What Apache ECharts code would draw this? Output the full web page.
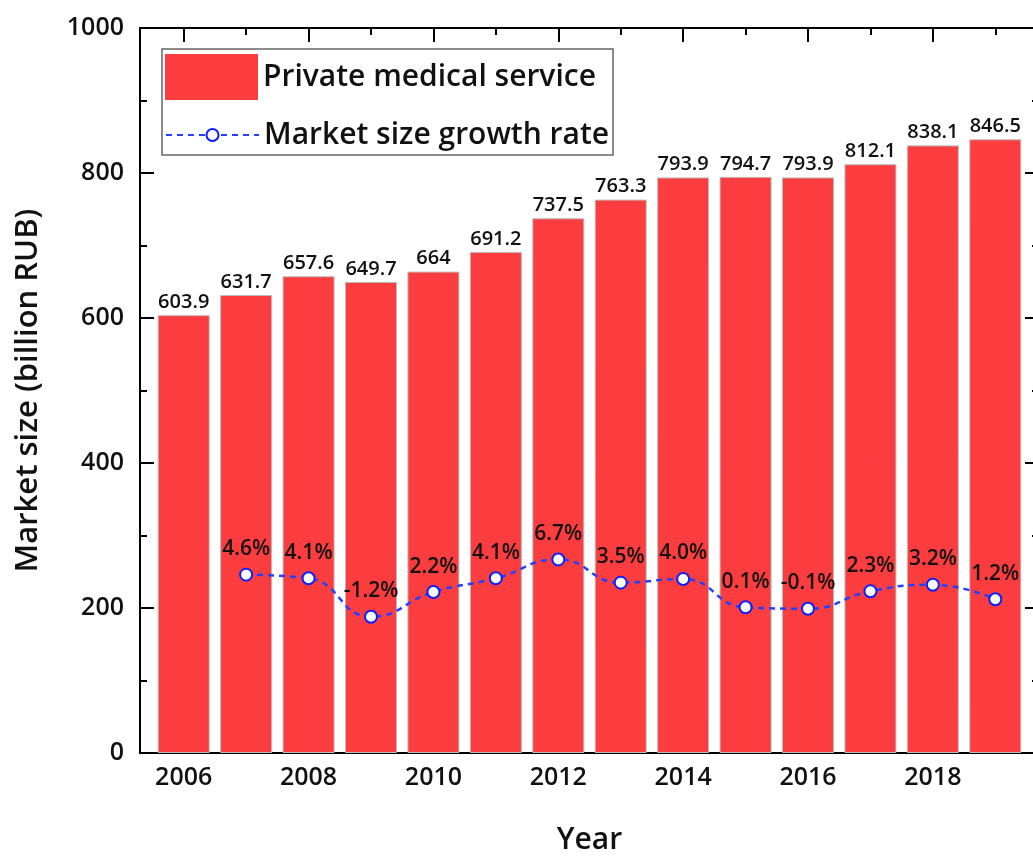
<!DOCTYPE html>
<html>
<head>
<meta charset="utf-8">
<script src="https://cdn.jsdelivr.net/npm/echarts@6/dist/echarts.min.js"></script>
<style>
  html, body { margin: 0; padding: 0; background: #fff; }
  #chart { width: 1033px; height: 859px; }
</style>
</head>
<body>
<div id="chart"></div>
<script>
// data
const years = [2006, 2007, 2008, 2009, 2010, 2011, 2012, 2013, 2014, 2015, 2016, 2017, 2018, 2019];
const marketSize = [603.9, 631.7, 657.6, 649.7, 664, 691.2, 737.5, 763.3, 793.9, 794.7, 793.9, 812.1, 838.1, 846.5];
const growthYears = [2007, 2008, 2009, 2010, 2011, 2012, 2013, 2014, 2015, 2016, 2017, 2018, 2019];
const growthRate = [4.6, 4.1, -1.2, 2.2, 4.1, 6.7, 3.5, 4.0, 0.1, -0.1, 2.3, 3.2, 1.2];
const majorYears = [2006, 2008, 2010, 2012, 2014, 2016, 2018];
const minorYears = [2007, 2009, 2011, 2013, 2015, 2017, 2019];

const FONT = 'Open Sans';
const W = 600;
const xMin = 2005.3, xMax = 2019.7;

const chart = echarts.init(document.getElementById('chart'));

// frame axes: bottom/top, major/minor ticks
const xAxisBase = (pos, ticks, len, showLine, showLabel) => ({
  type: 'value',
  position: pos,
  min: xMin,
  max: xMax,
  splitLine: { show: false },
  axisLine: { show: showLine, onZero: false, lineStyle: { color: '#000', width: 2 } },
  axisTick: { show: true, inside: true, length: len, customValues: ticks, lineStyle: { color: '#000', width: 2 } },
  axisLabel: {
    show: showLabel, customValues: ticks, margin: 12,
    fontFamily: FONT, fontSize: 25, fontWeight: W, color: '#111',
    formatter: v => String(v),
  },
});

const option = {
  animation: false,
  grid: { left: 140, top: 28, width: 899, height: 725, outerBoundsMode: 'none', containLabel: false },
  legend: [
    {
      data: [{ name: 'Private medical service', icon: 'rect' }],
      left: 165, top: 54, padding: 0,
      itemWidth: 93, itemHeight: 46,
      itemStyle: { borderWidth: 0 },
      textStyle: { fontFamily: FONT, fontSize: 30, fontWeight: W, color: '#111' },
    },
    {
      data: ['Market size growth rate'],
      left: 165, top: 120, padding: 0,
      itemWidth: 93, itemHeight: 15,
      textStyle: { fontFamily: FONT, fontSize: 30, fontWeight: W, color: '#111' },
    },
  ],
  graphic: [{
    type: 'rect',
    shape: { x: 162, y: 49, width: 451, height: 106 },
    style: { fill: 'none', stroke: '#666', lineWidth: 1.5 },
    z: 100,
  }],
  xAxis: [
    Object.assign(xAxisBase('bottom', majorYears, 14, true, true), {
      name: 'Year', nameLocation: 'middle', nameGap: 72,
      nameTextStyle: { fontFamily: FONT, fontSize: 30, fontWeight: W, color: '#111' },
    }),
    xAxisBase('bottom', minorYears, 7, false, false),
    xAxisBase('top', majorYears, 14, true, false),
    xAxisBase('top', minorYears, 7, false, false),
  ],
  yAxis: [
    {
      type: 'value', position: 'left',
      min: 0, max: 1000, interval: 200,
      name: 'Market size (billion RUB)', nameLocation: 'middle', nameGap: 96,
      nameTextStyle: { fontFamily: FONT, fontSize: 31, fontWeight: W, color: '#111' },
      splitLine: { show: false },
      axisLine: { show: true, lineStyle: { color: '#000', width: 2 } },
      axisTick: { show: true, inside: true, length: 14, lineStyle: { color: '#000', width: 2 } },
      minorTick: { show: true, splitNumber: 2, length: 7, lineStyle: { color: '#000', width: 2 } },
      axisLabel: { margin: 16, fontFamily: FONT, fontSize: 25, fontWeight: W, color: '#111', formatter: v => String(v) },
    },
    {
      // growth rate axis, labels hidden like the original
      type: 'value', position: 'right',
      min: -20, max: 80, interval: 20,
      splitLine: { show: false },
      axisLine: { show: true, lineStyle: { color: '#000', width: 2 } },
      axisTick: { show: true, inside: true, length: 14, lineStyle: { color: '#000', width: 2 } },
      minorTick: { show: true, splitNumber: 2, length: 7, lineStyle: { color: '#000', width: 2 } },
      axisLabel: { show: false },
    },
  ],
  series: [
    {
      name: 'Private medical service',
      type: 'bar',
      xAxisIndex: 0, yAxisIndex: 0,
      barWidth: 52,
      data: years.map((y, i) => [y, marketSize[i]]),
      itemStyle: { color: '#fc3d3f', borderColor: '#bbb', borderWidth: 1 },
      label: {
        show: true, position: 'top', distance: 3,
        fontFamily: FONT, fontSize: 20, fontWeight: W, color: '#111',
        formatter: p => String(p.value[1]),
      },
    },
    {
      name: 'Market size growth rate',
      type: 'line',
      xAxisIndex: 0, yAxisIndex: 1,
      smooth: true,
      z: 5,
      data: growthYears.map((y, i) => [y, growthRate[i]]),
      symbol: 'emptyCircle',
      symbolSize: 12,
      lineStyle: { color: '#2340ff', width: 2.5, type: [6, 5] },
      itemStyle: { color: '#0a1eff', borderColor: '#0a1eff', borderWidth: 2.5 },
      label: {
        show: true, position: 'top', distance: 8,
        fontFamily: FONT, fontSize: 21, fontWeight: W, color: '#111',
        formatter: p => p.value[1].toFixed(1) + '%',
      },
    },
  ],
};

chart.setOption(option);
</script>
</body>
</html>
